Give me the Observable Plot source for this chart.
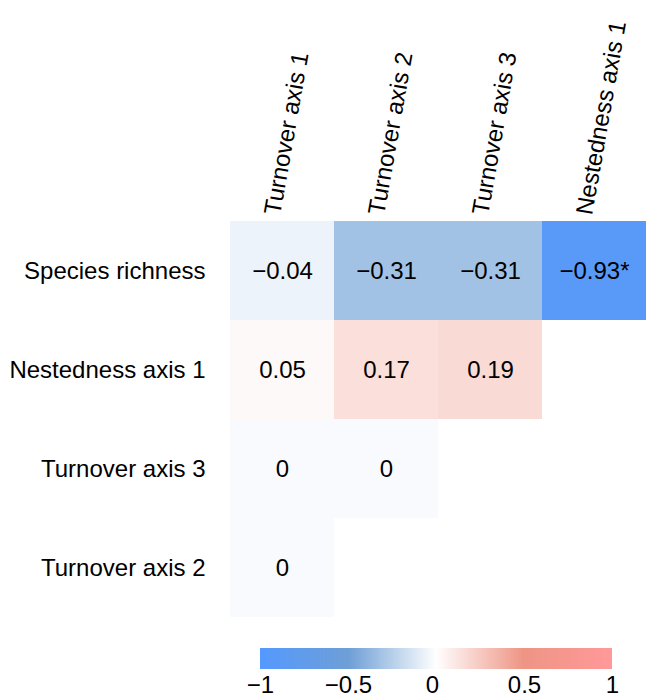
<!DOCTYPE html>
<html><head><meta charset="utf-8">
<script src="https://cdn.jsdelivr.net/npm/d3@7"></script>
<script src="https://cdn.jsdelivr.net/npm/@observablehq/plot@0.6"></script>
<style>body{margin:0;background:#fff;} #chart svg{display:block}</style>
</head><body><div id="chart"></div>
<script>
const columns = ["Turnover axis 1","Turnover axis 2","Turnover axis 3","Nestedness axis 1"];
const rows = ["Species richness","Nestedness axis 1","Turnover axis 3","Turnover axis 2"];
const speciesRichness = [-0.04,-0.31,-0.31,-0.93];
const nestedness1 = [0.05,0.17,0.19];
const turnover3 = [0,0];
const turnover2 = [0];
const significant = [[false,false,false,true],[false,false,false],[false,false],[false]];
const legendTicks = [-1,-0.5,0,0.5,1];
const colorStops = [-1,-0.5,0.025,0.5,1];
const colorRange = ["#5599ff","#6e9fd6","#ffffff","#ee9585","#ff9999"];

const series = [speciesRichness, nestedness1, turnover3, turnover2];
const cells = series.flatMap((vals,i)=>vals.map((v,j)=>({row: rows[i], col: columns[j], value: v, sig: significant[i][j]})));
const fmt = d => d === 0 ? "0" : d3.format(".2f")(d);
const font = "'Liberation Sans', Arial, sans-serif";

const chart = Plot.plot({
  width: 646, height: 628,
  marginLeft: 230, marginRight: 0, marginTop: 220, marginBottom: 10,
  style: {fontFamily: font, fontSize: "24px", color: "#000", background: "#fff"},
  x: {domain: columns, padding: 0},
  y: {domain: rows, padding: 0},
  color: {type: "linear", domain: colorStops, range: colorRange, clamp: true, label: null},
  marks: [
    Plot.cell(cells, {x:"col", y:"row", fill:"value"}),
    Plot.text(cells, {x:"col", y:"row", text: d => fmt(d.value) + (d.sig ? "*" : ""), fill:"#000", fontSize: 24}),
    Plot.axisX({anchor:"top", tickSize:0, tickRotate:-80, tickPadding: 6, fontSize: 24, label: null, dx: -10, fill: "#000"}),
    Plot.axisY({anchor:"left", tickSize:0, tickPadding:25, fontSize:24, label:null, fill: "#000"})
  ]
});
document.getElementById("chart").append(chart);

const legend = chart.legend("color", {
  width: 646, height: 71, marginLeft: 260, marginRight: 34, marginTop: 20, marginBottom: 30,
  tickSize: 4, ticks: legendTicks, tickFormat: d => d3.format("~g")(d), label: null,
  style: {fontFamily: font, fontSize: "24px", color: "#000", background: "#fff"}
});
d3.select(legend).selectAll(".tick line").remove();
document.getElementById("chart").append(legend);
</script>
</body></html>
